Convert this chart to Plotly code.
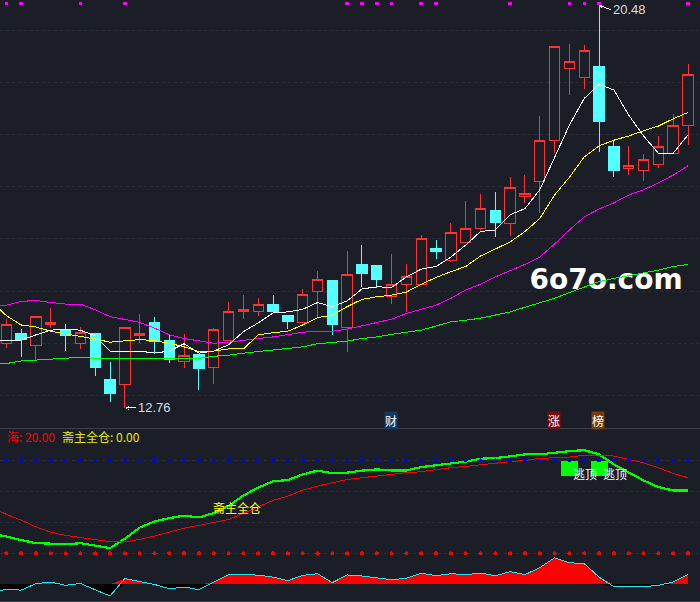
import numpy as np
import plotly.graph_objects as go

BG = "#1b1e26"
RED = "#ff3232"
CYAN = "#54ffff"

candle_index = list(range(47))
opens = [13.99,14.19,13.95,14.35,14.25,13.99,14.18,13.30,13.21,14.14,14.39,14.06,13.65,13.79,13.53,14.05,14.60,14.60,14.75,14.54,
         14.39,14.99,15.21,14.30,15.50,15.48,14.89,15.12,15.12,15.82,15.58,15.93,16.19,16.55,16.30,16.81,17.09,17.89,19.26,19.09,
         19.31,17.76,17.34,17.31,17.42,17.64,18.17]
highs = [14.46,14.27,14.52,14.67,14.37,14.32,14.18,13.64,14.31,14.56,14.50,14.16,14.18,13.79,14.29,14.79,14.92,14.87,14.92,14.55,
         15.03,15.38,15.21,15.77,15.88,15.50,15.71,15.52,16.07,15.98,16.30,16.72,16.86,16.90,17.18,17.22,18.35,19.69,19.73,19.71,
         20.48,17.87,17.78,17.63,17.97,18.39,19.35]
lows = [13.91,13.74,13.65,14.30,13.85,13.89,13.37,12.87,12.76,14.00,13.81,13.63,13.53,13.10,13.22,14.05,14.46,14.52,14.60,14.27,
        14.39,14.48,14.16,13.83,15.08,15.06,14.75,14.60,15.12,15.61,15.56,15.93,16.17,16.04,16.06,16.69,16.50,17.64,18.76,18.87,
        17.66,17.18,17.22,17.11,17.36,17.64,17.80]
closes = [14.36,14.08,14.52,14.39,14.14,14.21,13.53,13.03,14.31,14.19,14.04,13.68,13.77,13.51,14.27,14.61,14.65,14.75,14.60,14.41,
          14.94,15.22,14.35,15.32,15.33,15.23,15.13,15.28,16.01,15.75,16.13,16.20,16.58,16.31,16.99,16.86,17.89,19.69,19.40,19.61,
          18.24,17.30,17.41,17.52,17.77,18.17,19.15]

# Line series begin one session before the first visible candle (index -1), so they run off the left edge.
line_index = list(range(-1, 47))
ma_white = [14.06,14.06,14.06,14.16,14.25,14.27,14.25,14.14,13.85,13.85,13.85,13.81,13.85,13.99,13.81,13.85,13.97,14.22,14.39,14.58,14.60,
            14.65,14.78,14.70,14.81,15.04,15.08,15.07,15.27,15.42,15.47,15.65,15.88,16.14,16.17,16.46,16.58,16.94,17.57,18.18,18.69,
            18.96,18.85,18.37,17.97,17.64,17.64,17.99]
ma_yellow = [14.80,14.53,14.35,14.31,14.23,14.18,14.14,14.08,14.02,14.05,14.07,14.05,14.00,13.93,13.84,13.85,13.89,13.89,14.16,14.20,14.23,
             14.35,14.49,14.54,14.70,14.84,14.89,14.92,14.98,15.13,15.26,15.37,15.47,15.67,15.80,15.94,16.14,16.39,16.84,17.18,17.57,
             17.78,17.89,17.97,18.07,18.16,18.30,18.42]
ma_magenta = [14.70,14.73,14.80,14.82,14.78,14.75,14.75,14.64,14.51,14.46,14.40,14.29,14.16,14.09,14.04,14.00,14.02,14.06,14.09,14.12,14.17,
              14.21,14.23,14.23,14.27,14.33,14.39,14.46,14.57,14.65,14.73,14.86,15.02,15.13,15.27,15.39,15.51,15.65,15.90,16.17,16.42,
              16.57,16.69,16.84,16.94,17.07,17.22,17.40]
ma_green = [13.60,13.61,13.66,13.68,13.70,13.71,13.73,13.71,13.71,13.71,13.71,13.71,13.71,13.71,13.71,13.75,13.77,13.81,13.84,13.87,13.89,
            13.93,13.99,14.01,14.04,14.09,14.12,14.17,14.21,14.25,14.33,14.41,14.44,14.48,14.54,14.60,14.69,14.78,14.86,14.97,15.08,
            15.18,15.24,15.29,15.35,15.40,15.47,15.51]

flag_index = [0,1,5,8,23,24,25,26,28,29,34,38,39,40,46]
flag_level = 20.51

osc_green = [32.5,31.0,28.6,26.6,26.3,25.8,26.6,25.2,23.4,29.5,36.6,40.6,42.8,44.3,43.2,46.0,50.5,57.4,62.4,66.5,67.3,
             71.0,73.4,71.8,72.1,73.4,74.2,73.5,73.5,75.7,76.8,78.1,79.2,81.1,81.5,82.6,83.9,83.9,85.0,86.0,86.6,
             83.9,77.4,72.1,67.1,62.8,60.6,60.6]
osc_red = [49.7,45.2,41.5,37.2,33.7,31.6,30.3,29.0,27.5,27.5,29.0,31.2,34.0,36.3,38.1,39.8,41.9,45.8,50.1,54.2,57.0,
           60.8,63.4,65.6,67.7,68.8,69.9,71.4,72.1,72.7,74.0,75.3,76.1,77.2,77.9,79.2,80.0,81.3,81.7,82.1,83.4,
           83.4,82.8,80.6,78.5,75.3,71.6,68.8]
osc_hist = [-5.0,-3.2,-3.7,0.5,1.5,-0.6,0.6,-3.2,-7.5,3.7,1.9,0.0,-2.8,-1.7,-3.4,1.5,6.3,6.3,6.0,4.7,2.4,
            5.8,6.9,1.1,6.1,5.4,4.3,3.0,3.9,7.3,5.6,6.9,6.3,7.3,5.6,8.2,6.3,10.8,17.2,14.0,13.4,
            4.7,-1.5,-1.5,-1.5,-0.6,1.5,6.3]
upper_level = 80
lower_level = 20
escape_index = [38, 40]
escape_low = 70.5

PX_W, PX_H = 700, 602
SPLIT = 428.5
X_RANGE = [-0.425, 46.81]
ZERO_PX = 584.4

fig = go.Figure()

fig.add_trace(go.Candlestick(
    x=candle_index, open=opens, high=highs, low=lows, close=closes,
    increasing=dict(line=dict(color=RED, width=1), fillcolor=BG),
    decreasing=dict(line=dict(color=CYAN, width=1), fillcolor=CYAN),
    whiskerwidth=0, hoverinfo="skip", showlegend=False, xaxis="x", yaxis="y"))

fig.add_trace(go.Scatter(
    x=[40.47], y=[15.17], mode="text", text=["6o7o.com"], textposition="middle center",
    textfont=dict(family="DejaVu Sans", size=28, color="#ffffff", weight="bold"),
    hoverinfo="skip", showlegend=False, xaxis="x", yaxis="y"))

for vals, col in [(ma_green, "#00ff00"), (ma_magenta, "#ff00ff"), (ma_yellow, "#ffff00"), (ma_white, "#ffffff")]:
    fig.add_trace(go.Scatter(x=line_index, y=vals, mode="lines", line=dict(color=col, width=1),
                             hoverinfo="skip", showlegend=False, xaxis="x", yaxis="y"))

fig.add_trace(go.Scatter(
    x=flag_index, y=[flag_level] * len(flag_index), mode="markers",
    marker=dict(symbol="square", size=3.5, color="#ff00ff"),
    hoverinfo="skip", showlegend=False, cliponaxis=False, xaxis="x", yaxis="y"))

# lower pane
hist = np.array(osc_hist)
fig.add_trace(go.Bar(x=escape_index, y=[upper_level - escape_low] * len(escape_index), base=escape_low,
                     width=1.15, marker=dict(color="#00ff00", line=dict(width=0)),
                     hoverinfo="skip", showlegend=False, xaxis="x", yaxis="y2"))
fig.add_trace(go.Scatter(x=line_index, y=np.minimum(hist, 0).tolist(), mode="none", fill="tozeroy",
                         fillcolor="#000000", hoverinfo="skip", showlegend=False, xaxis="x", yaxis="y2"))
fig.add_trace(go.Scatter(x=line_index, y=np.maximum(hist, 0).tolist(), mode="none", fill="tozeroy",
                         fillcolor="#ff0000", hoverinfo="skip", showlegend=False, xaxis="x", yaxis="y2"))
fig.add_trace(go.Scatter(x=line_index, y=osc_hist, mode="lines", line=dict(color="#1fe6f0", width=1),
                         hoverinfo="skip", showlegend=False, xaxis="x", yaxis="y2"))
fig.add_trace(go.Scatter(x=line_index, y=osc_green, mode="lines", line=dict(color="#00ff00", width=2.2),
                         hoverinfo="skip", showlegend=False, xaxis="x", yaxis="y2"))
fig.add_trace(go.Scatter(x=line_index, y=osc_red, mode="lines", line=dict(color="#ff0000", width=1),
                         hoverinfo="skip", showlegend=False, xaxis="x", yaxis="y2"))
fig.add_trace(go.Scatter(x=candle_index, y=[upper_level] * 47, mode="markers",
                         marker=dict(size=4.2, color="#0000ff"),
                         hoverinfo="skip", showlegend=False, xaxis="x", yaxis="y2"))
fig.add_trace(go.Scatter(x=candle_index, y=[lower_level] * 47, mode="markers",
                         marker=dict(size=4.2, color="#ff0000"),
                         hoverinfo="skip", showlegend=False, xaxis="x", yaxis="y2"))

CJK = "Noto Sans CJK SC"
def px_note(x, y, text, color, size=12, family=CJK):
    return dict(xref="paper", yref="paper", x=x / PX_W, y=1 - y / PX_H, text=text, showarrow=False,
                xanchor="left", yanchor="middle", font=dict(family=family, size=size, color=color))

annotations = [
    px_note(5, 436.5, "海: 20.00", "#ff0000"),
    px_note(60, 436.5, "斋主全仓: 0.00", "#e6e600"),
    dict(xref="x", yref="y2", x=14, y=49.7, xshift=-3, text="斋主全仓", showarrow=False, xanchor="left", yanchor="middle",
         font=dict(family=CJK, size=12, color="#ffff00")),
]
for i in escape_index:
    annotations.append(dict(xref="x", yref="y2", x=i, y=71.4, xshift=2, text="逃顶", showarrow=False,
                            xanchor="left", yanchor="middle", font=dict(family=CJK, size=12, color="#ffffff")))
for i, t, c in [(26, "财", "#0e3a66"), (37, "涨", "#7a0a0a"), (40, "榜", "#7a3d0a")]:
    annotations.append(dict(xref="x", yref="paper", x=i, y=1 - 420 / PX_H, xshift=-1, text=t, showarrow=False,
                            xanchor="center", yanchor="middle", bgcolor=c, borderpad=0,
                            font=dict(family=CJK, size=12, color="#ffffff")))
label_font = dict(family="Liberation Sans", size=13, color="#d8dde5")
annotations.append(dict(xref="x", yref="y", x=8, y=12.76, text="12.76", showarrow=True, arrowhead=5, arrowsize=0.6,
                        arrowwidth=1, arrowcolor="#ffffff", ax=11, ay=0, xanchor="left", yanchor="middle",
                        font=label_font))
annotations.append(dict(xref="x", yref="y", x=40, y=20.48, text="20.48", showarrow=True, arrowhead=5, arrowsize=0.6,
                        arrowwidth=1, arrowcolor="#ffffff", ax=12, ay=5, xanchor="left", yanchor="middle",
                        font=label_font))

shapes = [
    dict(type="line", xref="paper", yref="paper", x0=0, x1=1, y0=1 - SPLIT / PX_H, y1=1 - SPLIT / PX_H,
         line=dict(color="#3a3f4a", width=1.5)),
    dict(type="line", xref="paper", yref="paper", x0=0, x1=1, y0=1 - 601.3 / PX_H, y1=1 - 601.3 / PX_H,
         line=dict(color="#3a3f4a", width=1.5)),
]

grid = dict(showgrid=True, gridcolor="#2b2e37", gridwidth=1, griddash="3px,3px", zeroline=False,
            showticklabels=False, ticks="", showline=False)

fig.update_layout(
    width=PX_W, height=PX_H, margin=dict(l=0, r=0, t=0, b=0), paper_bgcolor=BG, plot_bgcolor=BG,
    showlegend=False, hovermode=False, bargap=0, boxgap=0.3, boxgroupgap=0,
    xaxis=dict(range=X_RANGE, domain=[0, 1], anchor="y2", showgrid=False, zeroline=False, showticklabels=False,
               ticks="", showline=False, rangeslider=dict(visible=False)),
    yaxis=dict(domain=[1 - SPLIT / PX_H, 1], range=[20.575 - SPLIT / 52.2, 20.575],
               tickvals=list(range(13, 21)), **grid),
    yaxis2=dict(domain=[0, 1 - SPLIT / PX_H], range=[(ZERO_PX - PX_H) / 1.55, (ZERO_PX - SPLIT) / 1.55],
                tickvals=[20, 40, 60, 80], **grid),
    annotations=annotations, shapes=shapes,
)

post = ("document.body.style.margin='0';"
        "var s=document.createElement('style');"
        "s.textContent='svg.main-svg path{shape-rendering:crispEdges !important}';"
        "document.head.appendChild(s);")
fig.write_html("out.html", config=dict(displayModeBar=False), post_script=post)
